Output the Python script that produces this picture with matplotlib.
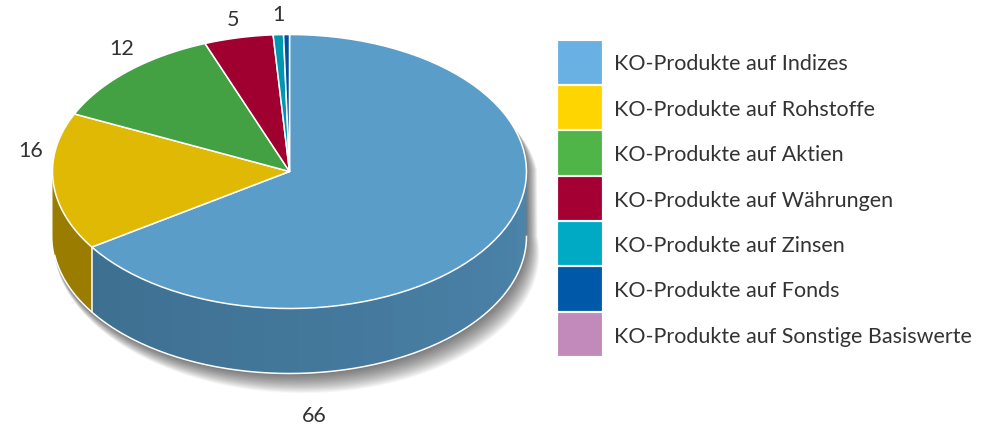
import numpy as np
import matplotlib.pyplot as plt
from matplotlib.patches import Polygon, Rectangle

categorias = ["KO-Produkte auf Indizes", "KO-Produkte auf Rohstoffe", "KO-Produkte auf Aktien",
              "KO-Produkte auf Währungen", "KO-Produkte auf Zinsen", "KO-Produkte auf Fonds",
              "KO-Produkte auf Sonstige Basiswerte"]
valores = [65.7, 16.2, 12.3, 4.7, 0.7, 0.4, 0.0]
rotulos = ["66", "16", "12", "5", "1", "", ""]

cores_topo = ["#5b9dc9", "#e0b905", "#43a144", "#a00030", "#0097b0", "#00509c", "#c088ba"]
cores_legenda = ["#68b1e2", "#ffd500", "#50b549", "#a50034", "#00aac5", "#0059a8", "#c28abb"]

cx, cy, rx, ry, prof = 289.5, 172.5, 237, 137, 65
pos_rotulos = [(314, 416), (31, 151), (122, 49), (233, 20), (278, 15)]

plt.rcParams["font.family"] = "Lato"


def arco(t0, t1, dy=0, n=80):
    t = np.radians(np.linspace(t0, t1, n))
    return np.column_stack([cx + rx * np.sin(t), cy - ry * np.cos(t) + dy])


fig = plt.figure(figsize=(9.98, 4.27), dpi=100)
ax = fig.add_axes([0, 0, 1, 1])
ax.set_xlim(0, 998)
ax.set_ylim(427, 0)
ax.axis("off")

# sombra: varias camadas transparentes, so para baixo e para a direita
graus = np.linspace(72, 262, 200)
peso = np.where(graus < 130,
                np.sin(np.clip((graus - 72) / 58, 0, 1) * np.pi / 2),
                np.cos((graus - 130) / 132 * np.pi / 2))
for e in np.arange(30, 0, -1) ** 1.15 * 0.47:
    t = np.radians(graus)
    x = cx + (rx + e * peso) * np.sin(t)
    y = cy - (ry + e * peso) * np.cos(t) + np.where(np.cos(t) < 0, prof, 0)
    ax.add_patch(Polygon(np.column_stack([x, y]), fc="#444444", ec="none", alpha=0.037, zorder=1))

limites = np.cumsum([0] + valores) * 3.6

# lateral azul em faixas
passo = 8
faixas = np.arange(90, limites[1], passo)
for i, a in enumerate(faixas):
    b = min(a + passo, limites[1])
    f = (a - 90) / (limites[1] - 90)
    cor = np.array([0x4c, 0x84, 0xaa]) * (1 - f) + np.array([0x3c, 0x6e, 0x8f]) * f
    pts = np.vstack([arco(a, b + 0.2, 0, 12), arco(b + 0.2, a, prof, 12)])
    ax.add_patch(Polygon(pts, fc=cor / 255, ec="none", zorder=2))

# lateral amarela
pts = np.vstack([arco(limites[1], 270, 0), arco(270, limites[1], prof)])
ax.add_patch(Polygon(pts, fc="#9a7d00", ec="none", zorder=2))

# contornos brancos da lateral
ax.plot(*arco(90, 262, prof, 200).T, color="white", lw=1.1, zorder=3)
borda = arco(limites[1], limites[1], 0, 2)
ax.plot([borda[0, 0], borda[0, 0]], [borda[0, 1], borda[0, 1] + prof], color="white", lw=1.1, zorder=3)

# fatias do topo
for i in range(len(valores)):
    if valores[i] == 0:
        continue
    pts = np.vstack([[cx, cy], arco(limites[i], limites[i + 1])])
    ax.add_patch(Polygon(pts, fc=cores_topo[i], ec="white", lw=1.1, joinstyle="round", zorder=4))

for txt, (x, y) in zip([r for r in rotulos if r], pos_rotulos):
    ax.text(x, y, txt, fontsize=15.5, color="#333333", ha="center", va="center", zorder=5)

# legenda
for i, (nome, cor) in enumerate(zip(categorias, cores_legenda)):
    y0 = 41 + i * 45.35
    ax.add_patch(Rectangle((558.5, y0 + 0.5), 43, 42.5, fc=cor, ec=cor, lw=0.6, zorder=4))
    ax.text(614.5, y0 + 23.5, nome, fontsize=15.5, color="#333333", va="center", ha="left", zorder=5)

plt.savefig("out.png", dpi=100)
